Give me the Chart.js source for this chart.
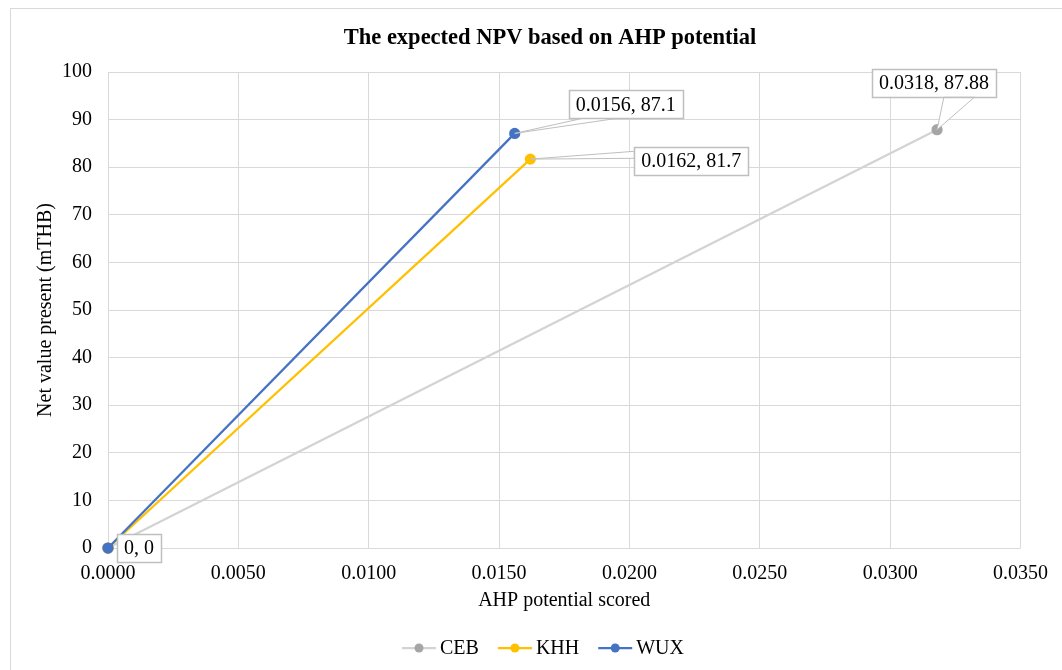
<!DOCTYPE html>
<html>
<head>
<meta charset="utf-8">
<script src="https://cdn.jsdelivr.net/npm/chart.js@4.4.1/dist/chart.umd.min.js"></script>
<style>
  html, body { margin: 0; padding: 0; background: #fff; }
  #wrap { position: relative; width: 1062px; height: 670px; }
</style>
</head>
<body>
<div id="wrap"><canvas id="c" width="1062" height="670"></canvas></div>
<script>
// Series: AHP potential score (x) vs. net present value in mTHB (y)
const seriesNames = ['CEB', 'KHH', 'WUX'];
const cebX = [0, 0.0318];
const cebY = [0, 87.88];
const khhX = [0, 0.0162];
const khhY = [0, 81.7];
const wuxX = [0, 0.0156];
const wuxY = [0, 87.1];
const xTicks = [0, 0.005, 0.01, 0.015, 0.02, 0.025, 0.03, 0.035];
const yTicks = [0, 10, 20, 30, 40, 50, 60, 70, 80, 90, 100];

const chartTitle = 'The expected NPV based on AHP potential';
const xTitle = 'AHP potential scored';
const yTitle = 'Net value present (mTHB)';

const SERIF = '"Liberation Serif", "Times New Roman", serif';
const pts = (xs, ys) => xs.map((x, i) => ({ x: x, y: ys[i] }));

// Callout placement for the data labels: dataset, point index,
// box centre offset from the point, and where the pointer meets the box.
const callouts = [
  { ds: 2, i: 0, dx: 31, dy: 0, edge: 'none' },
  { ds: 2, i: 1, dx: 111, dy: -29, edge: 'bottom', a: 0.12, b: 0.42 },
  { ds: 1, i: 1, dx: 161, dy: 2, edge: 'left', a: 0.15, b: 0.4 },
  { ds: 0, i: 1, dx: -3, dy: -47, edge: 'bottom', a: 0.58, b: 0.83 }
];

const frame = {
  id: 'frame',
  beforeDraw(chart) {
    const ctx = chart.ctx;
    ctx.save();
    ctx.fillStyle = '#fff';
    ctx.fillRect(0, 0, chart.width, chart.height);
    ctx.strokeStyle = '#d9d9d9';
    ctx.lineWidth = 1;
    ctx.strokeRect(10.5, 8.5, chart.width + 10, chart.height + 10);
    ctx.restore();
  },
  afterDraw(chart) {
    const ctx = chart.ctx;
    const area = chart.chartArea;
    ctx.save();
    ctx.fillStyle = '#000';
    ctx.textAlign = 'center';
    ctx.textBaseline = 'middle';
    ctx.font = 'bold 22.5px ' + SERIF;
    ctx.fillText(chartTitle, 550, 38);
    ctx.font = '20px ' + SERIF;
    ctx.fillText(xTitle, (area.left + area.right) / 2, 601);
    ctx.save();
    ctx.translate(46, (area.top + area.bottom) / 2);
    ctx.rotate(-Math.PI / 2);
    ctx.fillText(yTitle, 0, 0);
    ctx.restore();

    // legend
    const items = chart.data.datasets.map(d => ({ text: d.label, line: d.borderColor, dot: d.pointBackgroundColor }));
    ctx.font = '20px ' + SERIF;
    const sym = 38, gap = 4, spacing = 15;
    let total = 0;
    items.forEach((it, k) => { total += sym + gap + ctx.measureText(it.text).width + (k < items.length - 1 ? spacing : 0); });
    let x = 541 - total / 2 + 4;
    const y = 648;
    ctx.textAlign = 'left';
    items.forEach(it => {
      ctx.strokeStyle = it.line;
      ctx.lineWidth = 2.25;
      ctx.beginPath();
      ctx.moveTo(x, y); ctx.lineTo(x + sym - 4, y);
      ctx.stroke();
      ctx.fillStyle = it.dot;
      ctx.beginPath();
      ctx.arc(x + (sym - 4) / 2, y, 4.5, 0, Math.PI * 2);
      ctx.fill();
      ctx.fillStyle = '#000';
      ctx.fillText(it.text, x + sym + gap - 4, y + 1);
      x += sym + gap + ctx.measureText(it.text).width + spacing;
    });
    ctx.restore();
  },
  afterDatasetsDraw(chart) {
    const ctx = chart.ctx;
    ctx.save();
    ctx.font = '20px ' + SERIF;
    callouts.forEach(c => {
      const el = chart.getDatasetMeta(c.ds).data[c.i];
      const raw = chart.data.datasets[c.ds].data[c.i];
      const text = String(raw.x) + ', ' + String(raw.y);
      const w = ctx.measureText(text).width + 14;
      const h = 28;
      const cx = el.x + c.dx, cy = el.y + c.dy;
      const l = cx - w / 2, t = cy - h / 2;
      ctx.fillStyle = '#fff';
      ctx.strokeStyle = '#bfbfbf';
      if (c.edge !== 'none') {
        let p1, p2;
        if (c.edge === 'bottom') {
          p1 = [l + w * c.a, t + h]; p2 = [l + w * c.b, t + h];
        } else {
          p1 = [l, t + h * c.a]; p2 = [l, t + h * c.b];
        }
        ctx.lineWidth = 1;
        ctx.beginPath();
        ctx.moveTo(el.x, el.y);
        ctx.lineTo(p1[0], p1[1]);
        ctx.lineTo(p2[0], p2[1]);
        ctx.closePath();
        ctx.fill();
        ctx.stroke();
      }
      ctx.fillRect(l, t, w, h);
      ctx.lineWidth = 1.5;
      ctx.strokeRect(Math.round(l) + 0.5, Math.round(t) + 0.5, Math.round(w), h);
      ctx.fillStyle = '#000';
      ctx.textAlign = 'center';
      ctx.textBaseline = 'middle';
      ctx.fillText(text, cx, cy + 1);
    });
    ctx.restore();
  }
};

// lower "order" is painted later, so WUX ends up on top
const mk = (label, xs, ys, line, dot, order) => ({
  label: label,
  data: pts(xs, ys),
  order: order,
  clip: false,
  showLine: true,
  borderColor: line,
  backgroundColor: dot,
  pointBackgroundColor: dot,
  pointBorderColor: dot,
  borderWidth: 2.25,
  pointRadius: 4.5,
  pointHoverRadius: 4.5,
  tension: 0
});

new Chart(document.getElementById('c'), {
  type: 'scatter',
  data: {
    datasets: [
      mk(seriesNames[0], cebX, cebY, '#d3d3d3', '#a5a5a5', 3),
      mk(seriesNames[1], khhX, khhY, '#ffc000', '#ffc000', 2),
      mk(seriesNames[2], wuxX, wuxY, '#4472c4', '#4472c4', 1)
    ]
  },
  options: {
    responsive: false,
    animation: false,
    events: [],
    layout: { padding: { top: 72, right: 40, left: 0, bottom: 0 } },
    plugins: { legend: { display: false }, title: { display: false }, tooltip: { enabled: false } },
    scales: {
      x: {
        type: 'linear',
        min: xTicks[0],
        max: xTicks[xTicks.length - 1],
        afterFit(s) { s.height = 122; },
        afterBuildTicks(s) { s.ticks = xTicks.map(v => ({ value: v })); },
        grid: { color: '#d9d9d9', lineWidth: 1, drawTicks: false },
        border: { display: false },
        ticks: {
          padding: 14,
          color: '#000',
          font: { family: SERIF, size: 20 },
          maxRotation: 0,
          callback: v => v.toFixed(4)
        }
      },
      y: {
        type: 'linear',
        min: yTicks[0],
        max: yTicks[yTicks.length - 1],
        afterFit(s) { s.width = 108; },
        afterBuildTicks(s) { s.ticks = yTicks.map(v => ({ value: v })); },
        grid: { color: '#d9d9d9', lineWidth: 1, drawTicks: false },
        border: { display: false },
        ticks: {
          padding: 16,
          color: '#000',
          font: { family: SERIF, size: 20 },
          callback: v => String(v)
        }
      }
    }
  },
  plugins: [frame]
});
</script>
</body>
</html>
